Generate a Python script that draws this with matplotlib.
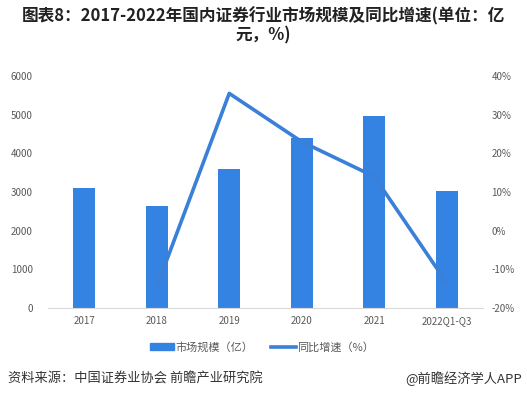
import numpy as np
import matplotlib
matplotlib.use("Agg")
from matplotlib import pyplot as plt
from matplotlib.lines import Line2D
from matplotlib.patches import Patch

plt.rcParams['font.family'] = ['Noto Sans CJK SC', 'DejaVu Sans']

YEARS = ["2017", "2018", "2019", "2020", "2021", "2022Q1-Q3"]
MARKET_SIZE = [3100, 2640, 3600, 4400, 4970, 3030]  # 亿元
GROWTH = [np.nan, -14.5, 35.5, 23.0, 14.0, -13.5]  # %

BAR_COLOR = "#3483E3"
LINE_COLOR = "#3A7FD8"
TICK_COLOR = "#595959"

fig = plt.figure(figsize=(5.27, 3.98), dpi=100)
ax = fig.add_axes([48 / 527, 1 - 308 / 398, 435 / 527, 232 / 398])
ax2 = ax.twinx()

x = np.arange(len(YEARS))
ax.bar(x, MARKET_SIZE, width=0.3, color=BAR_COLOR, zorder=2)
ax2.plot(x, GROWTH, color=LINE_COLOR, linewidth=2.6, zorder=3,
         solid_capstyle="butt")

ax.set_xlim(-0.5, len(YEARS) - 0.5)
ax.set_ylim(0, 6000)
ax.set_yticks(np.arange(0, 6001, 1000))
ax2.set_ylim(-20, 40)
ax2.set_yticks(np.arange(-20, 41, 10))
ax2.set_yticklabels([f"{v}%" for v in range(-20, 41, 10)])
ax.set_xticks(x)
ax.set_xticklabels(YEARS)

for a in (ax, ax2):
    for s in a.spines.values():
        s.set_visible(False)
    a.tick_params(length=0, labelsize=7, colors=TICK_COLOR)
ax.spines["bottom"].set_visible(True)
ax.spines["bottom"].set_color("#d9d9d9")
ax.tick_params(axis="y", pad=11)
ax2.tick_params(axis="y", pad=6)
ax.tick_params(axis="x", pad=6)

handles = [Patch(color=BAR_COLOR), Line2D([], [], color=LINE_COLOR, linewidth=2.6)]
fig.legend(handles, ["市场规模（亿）", "同比增速（%）"], loc="center",
           bbox_to_anchor=(262 / 527, 1 - 347 / 398), ncol=2, frameon=False,
           fontsize=8, labelcolor=TICK_COLOR, handlelength=2.2,
           handleheight=0.6, columnspacing=1.6, handletextpad=0.15)

fig.text(0.5, 1 - 26 / 398, "图表8：2017-2022年国内证券行业市场规模及同比增速(单位：亿\n元，%)",
         ha="center", va="center", fontsize=12, fontweight="bold", color="#222222",
         linespacing=1.05)
fig.text(8 / 527, 1 - 379 / 398, "资料来源：中国证券业协会 前瞻产业研究院",
         ha="left", va="center", fontsize=9.5, color="#333333")
fig.text(522 / 527, 1 - 379 / 398, "@前瞻经济学人APP",
         ha="right", va="center", fontsize=9.5, color="#333333")

fig.savefig("out.png", dpi=100)
